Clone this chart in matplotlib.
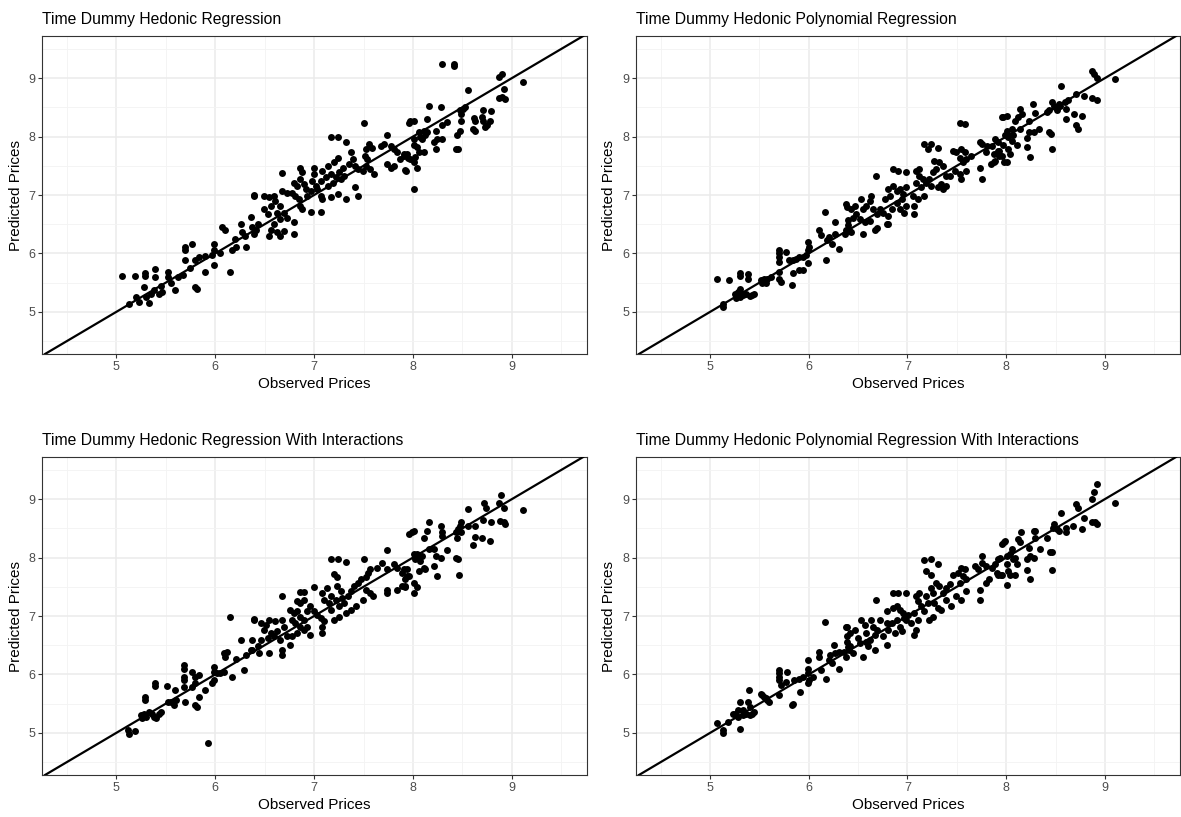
import numpy as np
import matplotlib.pyplot as plt

plt.rcParams['font.family'] = ['Liberation Sans', 'DejaVu Sans']

titles = [
    "Time Dummy Hedonic Regression",
    "Time Dummy Hedonic Polynomial Regression",
    "Time Dummy Hedonic Regression With Interactions",
    "Time Dummy Hedonic Polynomial Regression With Interactions",
]
x_label = "Observed Prices"
y_label = "Predicted Prices"
ticks = [5, 6, 7, 8, 9]
minor_ticks = [4.5, 5.5, 6.5, 7.5, 8.5, 9.5]

# (observed, predicted)
pts_reg = [
    (5.06, 5.61), (5.19, 5.61), (5.29, 5.61), (5.29, 5.67), (5.39, 5.74), (5.39, 5.6),
    (5.13, 5.14), (5.23, 5.17), (5.33, 5.15), (5.28, 5.43), (5.3, 5.26), (5.38, 5.37),
    (5.43, 5.31), (5.46, 5.34), (5.52, 5.69), (5.52, 5.6), (5.59, 5.38), (5.68, 5.63),
    (5.7, 6.06), (5.7, 6.11), (5.7, 5.89), (5.77, 6.16), (5.8, 5.43), (5.82, 5.4),
    (5.8, 5.89), (5.84, 5.94), (5.9, 5.69), (5.99, 6.17), (5.99, 6.06), (5.99, 5.8),
    (5.97, 5.97), (6.07, 6.46), (6.1, 6.4), (6.15, 5.69), (6.17, 6.06), (6.21, 6.11),
    (6.26, 6.51), (6.27, 6.37), (6.31, 6.11), (6.36, 6.63), (6.37, 6.46), (6.39, 6.99),
    (6.39, 6.34), (5.2, 5.25), (5.35, 5.3), (5.45, 5.45), (5.55, 5.5), (5.62, 5.6),
    (5.75, 5.75), (5.9, 5.95), (6.05, 6.0), (6.2, 6.25), (6.3, 6.3),
    (7.5, 8.24), (7.96, 8.24), (7.17, 8.0), (7.24, 8.0), (7.32, 7.91), (7.74, 8.03),
    (7.56, 7.87), (7.59, 7.81), (7.52, 7.79), (7.68, 7.84), (7.71, 7.87), (7.78, 7.84),
    (7.81, 7.79), (7.84, 7.73), (7.91, 7.7), (7.95, 7.64), (7.93, 7.41), (7.74, 7.53),
    (7.78, 7.47), (7.81, 7.5), (7.51, 7.67), (7.54, 7.61), (7.52, 7.5), (7.49, 7.41),
    (7.57, 7.44), (7.61, 7.36), (7.37, 7.73), (7.39, 7.61), (7.41, 7.5), (7.35, 7.53),
    (7.44, 7.44), (7.24, 7.64), (7.2, 7.56), (7.29, 7.47), (7.25, 7.39), (7.3, 7.33),
    (7.27, 7.27), (7.22, 7.3), (7.14, 7.5), (7.08, 7.41), (7.17, 7.36), (7.12, 7.3),
    (7.19, 7.21), (7.14, 7.16), (7.07, 7.24), (7.0, 7.47), (7.0, 7.36), (6.98, 7.24),
    (7.02, 7.16), (6.97, 7.07), (7.03, 7.1), (7.07, 6.99), (7.08, 6.93), (7.17, 6.96),
    (7.24, 7.01), (7.32, 6.93), (7.41, 7.13), (7.44, 6.99), (6.86, 7.47), (6.88, 7.39),
    (6.86, 7.27), (6.9, 7.19), (6.92, 7.1), (6.93, 6.99), (6.8, 7.21), (6.83, 7.16),
    (6.78, 7.04), (6.81, 6.99), (6.85, 6.93), (6.86, 6.81), (6.88, 6.76), (6.97, 6.71),
    (7.07, 6.71), (6.68, 7.37), (6.39, 7.0), (6.49, 6.99), (6.54, 6.96), (6.59, 6.99),
    (6.68, 7.07), (6.73, 7.04), (6.61, 6.9), (6.56, 6.81), (6.66, 6.81), (6.49, 6.76),
    (6.53, 6.67), (6.63, 6.7), (6.7, 6.7), (6.73, 6.61), (6.66, 6.59), (6.59, 6.5),
    (6.56, 6.41), (6.63, 6.36), (6.7, 6.39), (6.8, 6.33), (6.43, 6.5), (6.41, 6.41),
    (6.54, 6.3), (6.66, 6.3), (6.8, 6.53),
    (8.29, 9.25), (8.41, 9.25), (8.41, 9.21), (8.87, 9.02), (8.9, 9.07), (9.11, 8.93),
    (8.92, 8.81), (8.93, 8.65), (8.87, 8.66), (8.9, 8.67), (8.56, 8.79), (8.16, 8.52),
    (8.28, 8.5), (8.48, 8.45), (8.51, 8.47), (8.53, 8.5), (8.49, 8.39), (7.97, 8.26),
    (8.01, 8.27), (8.14, 8.3), (8.29, 8.19), (8.34, 8.25), (8.06, 8.07), (8.11, 8.09),
    (8.14, 8.07), (8.12, 8.02), (8.07, 7.99), (8.09, 7.96), (8.23, 8.1), (8.24, 7.96),
    (8.29, 7.96), (8.21, 7.9), (8.23, 7.79), (8.49, 8.27), (8.48, 8.1), (8.44, 8.02),
    (8.43, 7.79), (8.46, 7.79), (8.62, 8.31), (8.63, 8.27), (8.61, 8.13), (8.63, 8.09),
    (8.7, 8.33), (8.71, 8.27), (8.73, 8.16), (8.75, 8.19), (8.78, 8.27), (8.71, 8.45),
    (8.79, 8.43), (8.01, 7.96), (8.01, 7.85), (8.04, 7.82), (8.06, 7.73), (8.02, 7.65),
    (8.04, 7.47), (8.01, 7.56), (7.92, 7.42), (7.91, 7.67), (7.94, 7.7), (7.87, 7.62),
    (7.97, 7.62), (8.01, 7.1), (8.11, 7.73),
]

pts_poly = [
    (5.07, 5.57), (5.19, 5.55), (5.3, 5.67), (5.3, 5.61), (5.38, 5.65), (5.38, 5.57),
    (5.13, 5.13), (5.13, 5.09), (5.25, 5.31), (5.28, 5.34), (5.3, 5.26), (5.33, 5.29),
    (5.36, 5.31), (5.4, 5.27), (5.43, 5.29), (5.45, 5.31), (5.3, 5.4), (5.26, 5.23),
    (5.52, 5.54), (5.55, 5.57), (5.57, 5.49), (5.58, 5.57), (5.62, 5.6), (5.53, 5.49),
    (5.7, 6.06), (5.7, 6.0), (5.7, 5.94), (5.7, 5.86), (5.77, 6.03), (5.7, 5.69),
    (5.7, 5.57), (5.72, 5.51), (5.84, 5.66), (5.83, 5.46), (5.9, 5.71), (5.94, 5.71),
    (5.8, 5.89), (5.84, 5.89), (5.87, 5.91), (5.9, 5.94), (5.94, 5.94), (5.97, 5.97),
    (5.99, 6.06), (5.99, 5.83), (5.99, 6.2), (6.0, 6.11), (6.1, 6.4), (6.12, 6.31),
    (6.16, 6.71), (6.17, 5.89), (6.19, 6.23), (6.21, 6.29), (6.24, 6.17), (6.31, 6.08),
    (6.27, 6.34), (6.27, 6.53), (6.39, 6.8), (6.4, 6.57), (6.4, 6.49), (6.41, 6.4),
    (6.37, 6.34),
    (7.53, 8.24), (7.58, 8.21), (7.96, 8.33), (7.17, 7.87), (7.24, 7.87), (7.21, 7.79),
    (7.31, 7.81), (7.46, 7.76), (7.49, 7.73), (7.54, 7.79), (7.58, 7.73), (7.53, 7.64),
    (7.59, 7.61), (7.56, 7.56), (7.64, 7.67), (7.73, 7.9), (7.76, 7.87), (7.81, 7.84),
    (7.86, 7.84), (7.8, 7.73), (7.88, 7.7), (7.93, 7.76), (7.93, 7.67), (7.73, 7.47),
    (7.75, 7.27), (7.85, 7.53), (7.88, 7.56), (7.98, 7.56), (7.59, 7.41), (7.54, 7.27),
    (7.53, 7.36), (7.48, 7.41), (7.43, 7.33), (7.39, 7.16), (7.36, 7.1), (7.31, 7.13),
    (7.27, 7.59), (7.32, 7.56), (7.36, 7.5), (7.29, 7.44), (7.26, 7.39), (7.22, 7.27),
    (7.24, 7.16), (7.34, 7.19), (7.39, 7.33), (6.85, 7.44), (6.9, 7.41), (6.99, 7.4),
    (7.09, 7.41), (7.12, 7.44), (7.12, 7.33), (7.16, 7.27), (7.19, 7.21), (7.09, 7.21),
    (7.14, 7.13), (7.17, 6.99), (7.06, 6.99), (7.11, 6.93), (7.07, 6.81), (7.07, 6.67),
    (6.68, 7.32), (6.8, 7.1), (6.85, 7.16), (6.89, 7.07), (6.92, 7.1), (6.95, 7.01),
    (6.99, 7.13), (6.94, 6.93), (6.89, 6.87), (6.82, 6.99), (6.77, 6.93), (6.84, 6.76),
    (6.92, 6.76), (6.99, 6.81), (6.97, 6.7), (6.8, 6.64), (6.8, 6.5), (6.38, 6.84),
    (6.43, 6.76), (6.47, 6.81), (6.48, 6.67), (6.53, 6.93), (6.55, 6.76), (6.58, 6.81),
    (6.63, 6.99), (6.62, 6.9), (6.65, 6.76), (6.69, 6.67), (6.72, 6.76), (6.75, 6.7),
    (6.45, 6.61), (6.52, 6.59), (6.57, 6.53), (6.62, 6.56), (6.69, 6.44), (6.38, 6.41),
    (6.43, 6.36), (6.55, 6.33), (6.67, 6.41), (6.79, 6.5),
    (8.87, 9.13), (8.89, 9.07), (8.92, 9.0), (9.1, 8.98), (8.56, 8.86), (8.71, 8.72),
    (8.79, 8.69), (8.87, 8.66), (8.92, 8.62), (8.27, 8.56), (8.46, 8.59), (8.48, 8.53),
    (8.49, 8.5), (8.53, 8.56), (8.55, 8.53), (8.51, 8.45), (8.6, 8.59), (8.63, 8.62),
    (8.41, 8.42), (8.43, 8.45), (8.61, 8.47), (8.61, 8.3), (8.69, 8.39), (8.77, 8.35),
    (8.71, 8.2), (8.73, 8.13), (8.14, 8.47), (8.16, 8.39), (8.12, 8.33), (7.97, 8.33),
    (8.01, 8.36), (8.09, 8.27), (8.29, 8.4), (8.23, 8.26), (8.14, 8.13), (8.06, 8.13),
    (8.01, 8.1), (8.33, 8.13), (8.28, 8.07), (8.23, 8.07), (7.89, 7.96), (7.92, 7.9),
    (7.99, 8.02), (8.02, 7.99), (8.07, 8.02), (8.06, 7.93), (7.97, 7.85), (7.92, 7.76),
    (8.02, 7.79), (8.11, 7.85), (8.04, 7.7), (8.01, 7.56), (7.96, 7.67), (7.89, 7.59),
    (8.21, 7.97), (8.21, 7.82), (8.24, 7.65), (8.43, 8.07), (8.45, 8.05), (8.46, 7.79),
]

pts_int = [
    (5.12, 5.05), (5.13, 4.99), (5.19, 5.03), (5.93, 4.83), (5.29, 5.61), (5.29, 5.56),
    (5.25, 5.3), (5.28, 5.33), (5.3, 5.27), (5.26, 5.25), (5.33, 5.36), (5.36, 5.33),
    (5.4, 5.25), (5.38, 5.27), (5.43, 5.33), (5.45, 5.36), (5.39, 5.85), (5.39, 5.8),
    (5.51, 5.8), (5.52, 5.53), (5.55, 5.53), (5.58, 5.47), (5.6, 5.56), (5.59, 5.73),
    (5.69, 6.16), (5.69, 6.1), (5.69, 5.96), (5.69, 5.9), (5.69, 5.79), (5.7, 5.53),
    (5.77, 6.05), (5.8, 5.96), (5.84, 5.99), (5.8, 5.85), (5.77, 5.79), (5.84, 5.62),
    (5.8, 5.47), (5.82, 5.45), (5.9, 5.73), (5.99, 6.13), (5.99, 6.05), (5.99, 5.9),
    (5.97, 5.85), (6.02, 6.02), (6.05, 6.02), (6.09, 6.05), (6.17, 5.96), (6.15, 6.99),
    (6.09, 6.36), (6.1, 6.3), (6.12, 6.39), (6.21, 6.27), (6.26, 6.59), (6.29, 6.07),
    (6.31, 6.33), (6.39, 6.93), (6.37, 6.59), (6.37, 6.42),
    (7.96, 8.4), (7.74, 8.13), (7.17, 7.98), (7.24, 7.98), (7.32, 7.93), (7.5, 7.97),
    (7.2, 7.72), (7.23, 7.66), (6.68, 7.35), (6.86, 7.41), (6.9, 7.41), (6.9, 7.28),
    (7.0, 7.49), (6.86, 7.22), (6.83, 7.25), (7.08, 7.4), (7.13, 7.48), (7.1, 7.28),
    (7.15, 7.22), (7.17, 7.34), (7.23, 7.51), (7.27, 7.43), (7.22, 7.28), (7.28, 7.31),
    (7.25, 7.17), (7.3, 7.22), (7.34, 7.34), (7.37, 7.43), (7.4, 7.51), (7.44, 7.57),
    (7.47, 7.63), (7.52, 7.66), (7.55, 7.74), (7.57, 7.8), (7.64, 7.83), (7.69, 7.91),
    (7.74, 7.8), (7.81, 7.89), (7.84, 7.83), (7.89, 7.74), (7.94, 7.68), (7.92, 7.51),
    (7.84, 7.45), (7.74, 7.45), (7.74, 7.4), (7.6, 7.34), (7.57, 7.4), (7.52, 7.45),
    (7.49, 7.28), (7.42, 7.17), (7.37, 7.11), (7.32, 7.05), (7.25, 6.99), (7.2, 6.94),
    (7.17, 7.11), (6.76, 7.11), (6.8, 7.05), (6.83, 7.08), (6.86, 6.99), (6.9, 6.94),
    (6.93, 7.08), (6.96, 7.17), (7.0, 7.08), (7.03, 7.02), (7.07, 6.97), (7.08, 6.82),
    (7.1, 6.91), (6.96, 6.68), (7.08, 6.71), (6.78, 6.94), (6.81, 6.88), (6.86, 6.82),
    (6.9, 6.76), (6.93, 6.82), (6.83, 6.71), (6.78, 6.65), (6.76, 6.51), (6.39, 6.95),
    (6.46, 6.88), (6.51, 6.85), (6.54, 6.94), (6.61, 6.91), (6.68, 6.94), (6.49, 6.76),
    (6.56, 6.71), (6.63, 6.74), (6.7, 6.82), (6.53, 6.62), (6.59, 6.65), (6.66, 6.59),
    (6.46, 6.59), (6.43, 6.48), (6.36, 6.42), (6.44, 6.36), (6.54, 6.36), (6.68, 6.33),
    (6.68, 6.42), (6.73, 6.65),
    (8.89, 9.07), (9.11, 8.81), (8.72, 8.93), (8.74, 8.84), (8.87, 8.93), (8.92, 8.85),
    (8.88, 8.62), (8.92, 8.61), (8.93, 8.57), (8.79, 8.61), (8.56, 8.83), (8.71, 8.65),
    (8.63, 8.54), (8.56, 8.54), (8.49, 8.6), (8.48, 8.54), (8.49, 8.43), (8.46, 8.49),
    (8.43, 8.43), (8.44, 8.34), (8.63, 8.35), (8.7, 8.33), (8.78, 8.29), (8.61, 8.21),
    (8.16, 8.61), (8.28, 8.54), (8.29, 8.43), (8.29, 8.37), (8.14, 8.45), (8.11, 8.34),
    (7.99, 8.43), (8.01, 8.46), (8.21, 8.14), (8.16, 8.14), (8.34, 8.13), (8.28, 8.0),
    (8.23, 8.02), (8.43, 8.0), (8.46, 7.97), (8.21, 7.86), (8.24, 7.69), (8.47, 7.7),
    (8.01, 8.06), (8.04, 8.06), (8.06, 8.0), (8.09, 8.02), (8.02, 7.97), (8.07, 7.94),
    (8.11, 7.83), (8.06, 7.77), (8.12, 7.8), (7.94, 7.8), (7.91, 7.8), (7.96, 7.69),
    (7.92, 7.63), (7.89, 7.51), (7.92, 7.49), (8.01, 7.57), (8.04, 7.49), (8.01, 7.39),
]

pts_poly_int = [
    (5.07, 5.17), (5.13, 5.05), (5.13, 5.0), (5.3, 5.07), (5.18, 5.19), (5.25, 5.33),
    (5.28, 5.39), (5.3, 5.53), (5.33, 5.39), (5.36, 5.33), (5.4, 5.3), (5.43, 5.33),
    (5.45, 5.36), (5.41, 5.45), (5.38, 5.53), (5.39, 5.73), (5.33, 5.3), (5.28, 5.27),
    (5.23, 5.32), (5.52, 5.67), (5.55, 5.62), (5.57, 5.59), (5.58, 5.56), (5.6, 5.53),
    (5.53, 5.65), (5.7, 6.07), (5.7, 6.02), (5.7, 5.96), (5.7, 5.9), (5.72, 5.82),
    (5.78, 6.05), (5.77, 5.87), (5.7, 5.65), (5.83, 5.47), (5.84, 5.5), (5.91, 5.7),
    (5.85, 5.9), (5.9, 5.93), (5.94, 5.96), (5.99, 6.02), (5.99, 5.85), (5.99, 6.1),
    (6.0, 5.9), (6.04, 5.96), (5.99, 6.25), (6.1, 6.39), (6.1, 6.3), (6.12, 6.07),
    (6.17, 5.93), (6.16, 6.9), (6.21, 6.25), (6.24, 6.19), (6.22, 6.33), (6.26, 6.5),
    (6.31, 6.09), (6.27, 6.36), (6.31, 6.39), (6.36, 6.39), (6.39, 6.82), (6.39, 6.65),
    (6.39, 6.56), (6.4, 6.47), (6.41, 6.42),
    (7.98, 8.26), (7.17, 7.95), (7.24, 7.97), (7.31, 7.89), (7.75, 8.03), (7.19, 7.77),
    (7.24, 7.71), (6.68, 7.28), (6.85, 7.39), (6.9, 7.39), (6.99, 7.39), (7.46, 7.71),
    (7.51, 7.74), (7.54, 7.83), (7.58, 7.8), (7.56, 7.68), (7.59, 7.63), (7.53, 7.57),
    (7.43, 7.54), (7.39, 7.48), (7.68, 7.86), (7.71, 7.8), (7.76, 7.91), (7.8, 7.86),
    (7.86, 7.83), (7.91, 7.74), (7.95, 7.71), (7.83, 7.63), (7.8, 7.57), (7.73, 7.45),
    (7.73, 7.28), (7.59, 7.43), (7.54, 7.28), (7.49, 7.34), (7.44, 7.17), (7.39, 7.28),
    (7.36, 7.4), (7.32, 7.51), (7.29, 7.57), (7.24, 7.48), (7.26, 7.4), (7.19, 7.34),
    (7.21, 7.22), (7.27, 7.22), (7.31, 7.14), (7.34, 7.11), (7.26, 6.99), (7.22, 6.94),
    (7.12, 7.4), (7.09, 7.34), (7.11, 7.25), (7.14, 7.17), (7.17, 7.08), (7.07, 7.05),
    (7.11, 6.94), (7.09, 6.76), (7.07, 6.68), (7.04, 6.88), (6.99, 6.94), (6.79, 7.08),
    (6.85, 7.14), (6.89, 7.17), (6.92, 7.11), (6.95, 7.05), (6.97, 6.97), (7.01, 7.02),
    (6.89, 6.94), (6.84, 6.88), (6.92, 6.82), (6.94, 6.74), (6.87, 6.71), (6.8, 6.76),
    (6.79, 6.51), (6.75, 6.65), (6.69, 6.76), (6.72, 6.94), (6.38, 6.82), (6.42, 6.71),
    (6.47, 6.76), (6.5, 6.62), (6.53, 6.94), (6.57, 6.85), (6.58, 6.71), (6.63, 6.94),
    (6.65, 6.82), (6.62, 6.59), (6.67, 6.68), (6.67, 6.42), (6.6, 6.48), (6.55, 6.3),
    (6.45, 6.36), (6.38, 6.3), (6.42, 6.48), (6.52, 6.53), (6.58, 6.56), (6.79, 6.88),
    (8.92, 9.26), (8.89, 9.13), (8.87, 9.01), (9.1, 8.93), (8.71, 8.91), (8.73, 8.84),
    (8.79, 8.67), (8.87, 8.61), (8.92, 8.57), (8.9, 8.6), (8.56, 8.77), (8.48, 8.57),
    (8.47, 8.51), (8.51, 8.49), (8.53, 8.46), (8.61, 8.51), (8.61, 8.43), (8.68, 8.54),
    (8.77, 8.49), (8.41, 8.34), (8.44, 8.09), (8.46, 8.09), (8.46, 7.79), (8.34, 8.14),
    (8.29, 8.46), (8.28, 8.46), (8.29, 8.33), (8.15, 8.43), (8.12, 8.31), (8.14, 8.26),
    (7.99, 8.29), (7.96, 8.23), (8.06, 8.14), (8.04, 8.06), (8.01, 8.03), (8.09, 8.0),
    (8.07, 7.97), (8.23, 8.17), (8.24, 8.02), (8.28, 8.0), (8.21, 7.97), (8.21, 7.79),
    (8.24, 7.64), (7.94, 8.0), (7.89, 7.89), (7.92, 7.97), (8.01, 7.89), (8.11, 7.89),
    (8.02, 7.77), (8.04, 7.71), (8.09, 7.71), (7.96, 7.71), (7.92, 7.7), (8.01, 7.53),
]

panels = [pts_reg, pts_poly, pts_int, pts_poly_int]

fig = plt.figure(figsize=(11.81, 8.17), dpi=100)
positions = [
    [0.0356, 0.5667, 0.4615, 0.3892],
    [0.5385, 0.5667, 0.4606, 0.3892],
    [0.0356, 0.0514, 0.4615, 0.3892],
    [0.5385, 0.0514, 0.4606, 0.3892],
]

for pos, title, pts in zip(positions, titles, panels):
    ax = fig.add_axes(pos)
    xy = np.array(pts)
    ax.scatter(xy[:, 0], xy[:, 1], s=25, color="black", linewidths=0, zorder=3)
    ax.axline((5, 5), slope=1, color="black", linewidth=1.6, zorder=4)

    ax.set_xlim(4.25, 9.76)
    ax.set_ylim(4.28, 9.72)
    ax.set_xticks(ticks)
    ax.set_yticks(ticks)
    ax.set_xticks(minor_ticks, minor=True)
    ax.set_yticks(minor_ticks, minor=True)
    ax.grid(True, which="major", color="#EBEBEB", linewidth=1.1, zorder=0)
    ax.grid(True, which="minor", color="#F3F3F3", linewidth=0.6, zorder=0)
    ax.set_axisbelow(True)
    ax.tick_params(which="major", length=3, width=0.8, color="#333333",
                   labelsize=9, labelcolor="#4D4D4D", pad=2)
    ax.tick_params(which="minor", length=0)
    for sp in ax.spines.values():
        sp.set_color("#333333")
        sp.set_linewidth(0.8)

    ax.set_title(title, loc="left", fontsize=11.3, pad=9)
    ax.set_xlabel(x_label, fontsize=11, labelpad=3)
    ax.set_ylabel(y_label, fontsize=11, labelpad=4)

fig.savefig("out.png", dpi=100)
